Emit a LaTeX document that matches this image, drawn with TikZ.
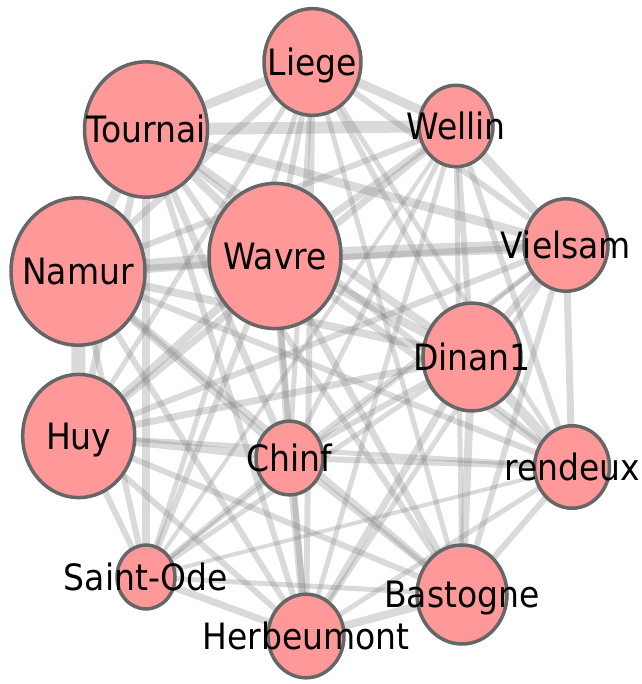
\documentclass[tikz,border=0pt]{standalone}
\usepackage{fontspec}
\setmainfont{DejaVu Sans}
\pgfdeclarelayer{bg}
\pgfsetlayers{bg,main}
\definecolor{nodefill}{RGB}{255,153,153}
\definecolor{nodeline}{RGB}{102,102,102}
\definecolor{edgecol}{RGB}{128,128,128}
\begin{document}
\begin{tikzpicture}[x=1pt,y=-1pt,
  city/.style={circle, draw=nodeline, fill=nodefill, line width=3.5pt, inner sep=0pt, yscale=1.1},
  lbl/.style={inner sep=0pt, font=\fontsize{33}{39}\selectfont, text height=24pt, text depth=0pt, yscale=1.1},
  link/.style={draw=edgecol, draw opacity=0.29, line cap=butt}]
\useasboundingbox (0,0) rectangle (641,684);
% nodes
\node[city, minimum size=97pt]  (L)  at (312.5,62)  {};
\node[city, minimum size=123pt] (T)  at (146,129.5) {};
\node[city, minimum size=74pt]  (We) at (456,126)   {};
\node[city, minimum size=132pt] (Wa) at (275,256)   {};
\node[city, minimum size=134pt] (N)  at (78,271.5)  {};
\node[city, minimum size=84pt]  (V)  at (566,245)   {};
\node[city, minimum size=98pt]  (D)  at (472,357)   {};
\node[city, minimum size=112pt] (H)  at (78.7,436)  {};
\node[city, minimum size=67pt]  (C)  at (289.5,458) {};
\node[city, minimum size=75pt]  (R)  at (572,467)   {};
\node[city, minimum size=58pt]  (S)  at (146,577)   {};
\node[city, minimum size=90pt]  (B)  at (462,594.5) {};
\node[city, minimum size=76pt]  (He) at (306,636)   {};
% labels
\node[lbl] (Lt)  at (L)  {Liege};
\node[lbl] (Tt)  at (T)  {Tournai};
\node[lbl] (Wet) at (We) {Wellin};
\node[lbl] (Wat) at (Wa) {Wavre};
\node[lbl] (Nt)  at (N)  {Namur};
\node[lbl] (Vt)  at (V)  {Vielsam};
\node[lbl] (Dt)  at (D)  {Dinan1};
\node[lbl] (Ht)  at (H)  {Huy};
\node[lbl] (Ct)  at (C)  {Chinf};
\node[lbl] (Rt)  at (R)  {rendeux};
\node[lbl] (St)  at (S)  {Saint-Ode};
\node[lbl] (Bt)  at (B)  {Bastogne};
\node[lbl] (Het) at (He) {Herbeumont};
% edges
\begin{pgfonlayer}{bg}
\foreach \a/\b/\w in {
 L/T/9, L/We/9, L/Wa/6, L/N/7, L/V/6, L/D/6, L/H/5, L/C/5, L/R/5, L/S/5, L/B/5, L/He/6,
 T/We/12, T/Wa/8, T/N/10, T/V/9, T/D/8, T/H/7, T/C/7, T/R/6, T/S/8, T/B/6, T/He/6,
 We/Wa/7, We/N/6, We/V/9, We/D/6, We/H/7, We/C/5, We/R/6, We/S/4, We/B/5, We/He/5,
 Wa/N/14, Wa/V/13, Wa/D/9, Wa/H/8, Wa/C/7, Wa/R/7, Wa/S/6, Wa/B/7, Wa/He/6,
 N/V/6, N/D/8, N/H/14, N/C/7, N/R/6, N/S/6, N/B/7, N/He/6,
 V/D/7, V/H/6, V/C/5, V/R/7, V/S/4, V/B/6, V/He/5,
 D/H/7, D/C/6, D/R/10, D/S/5, D/B/8, D/He/7,
 H/C/8, H/R/5, H/S/6, H/B/6, H/He/6,
 C/R/6, C/S/5, C/B/6, C/He/8,
 R/S/4, R/B/6, R/He/5,
 S/B/5, S/He/7,
 B/He/8}
  \draw[link, line width=\w pt] (\a.center) -- (\b.center);
\end{pgfonlayer}
\end{tikzpicture}
\end{document}
